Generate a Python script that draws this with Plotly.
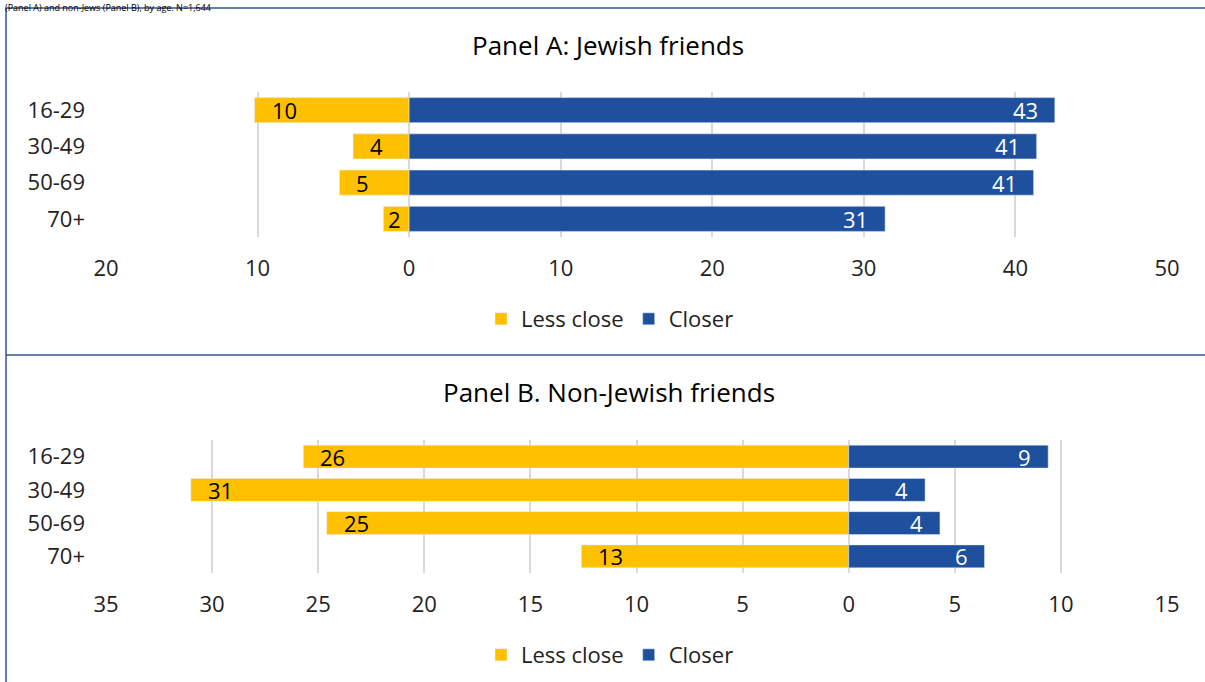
import plotly.graph_objects as go

W, H = 1205, 682

ages = ["16-29", "30-49", "50-69", "70+"]
a_less = [10.2, 3.7, 4.6, 1.7]
a_closer = [42.6, 41.4, 41.2, 31.4]
b_less = [25.7, 31.0, 24.6, 12.6]
b_closer = [9.4, 3.6, 4.3, 6.4]

a_ticks = [-20, -10, 0, 10, 20, 30, 40, 50]
b_ticks = [-35, -30, -25, -20, -15, -10, -5, 0, 5, 10, 15]

top_text = "(Panel A) and non-Jews (Panel B), by age. N=1,644"
title_a = "Panel A: Jewish friends"
title_b = "Panel B. Non-Jewish friends"

YELLOW = "#FFC000"
BLUE = "#1F509E"
FRAME = "#2F5597"
FONT = "Open Sans"
FS = 22

X0, X1 = 106, 1167  # plot-area pixel edges


def px_x(p):
    return p / W


def px_y(p):
    return 1 - p / H


fig = go.Figure()

panels = [
    ("x", "y", "legend", a_less, a_closer, a_ticks),
    ("x2", "y2", "legend2", b_less, b_closer, b_ticks),
]
for xa, ya, lg, less, closer, _ in panels:
    fig.add_trace(go.Bar(
        y=ages, x=[-v for v in less], orientation="h", name="Less close",
        marker=dict(color=YELLOW), xaxis=xa, yaxis=ya, legend=lg,
        hoverinfo="skip"))
    fig.add_trace(go.Bar(
        y=ages, x=closer, orientation="h", name="Closer",
        marker=dict(color=BLUE), xaxis=xa, yaxis=ya, legend=lg,
        hoverinfo="skip"))


def label_shift(v, ticks):
    # keep the label inside the bar: inset ~15px, less if the bar is short
    ppu = (X1 - X0) / (ticks[-1] - ticks[0])
    bar_px = abs(v) * ppu
    txt_w = 12.5 * len(str(round(abs(v))))
    return max(1.0, min(15.0, bar_px - txt_w - 11))


annotations = []
for xa, ya, _, less, closer, ticks in panels:
    for cat, v in zip(ages, less):
        annotations.append(dict(
            x=-v, y=cat, xref=xa, yref=ya, text=str(round(v)),
            xanchor="left", yanchor="middle", xshift=label_shift(v, ticks),
            showarrow=False,
            font=dict(family=FONT, size=FS, color="black")))
    for cat, v in zip(ages, closer):
        annotations.append(dict(
            x=v, y=cat, xref=xa, yref=ya, text=str(round(v)),
            xanchor="right", yanchor="middle", xshift=-label_shift(v, ticks),
            showarrow=False,
            font=dict(family=FONT, size=FS, color="white")))

annotations += [
    dict(x=px_x(4), y=1, xref="paper", yref="paper",
         text=top_text, showarrow=False, borderpad=0,
         xanchor="left", yanchor="top",
         font=dict(family=FONT, size=9, color="black")),
    dict(x=px_x(608), y=px_y(45), xref="paper", yref="paper",
         text=title_a, showarrow=False,
         xanchor="center", yanchor="middle",
         font=dict(family=FONT, size=26, color="black")),
    dict(x=px_x(609), y=px_y(392), xref="paper", yref="paper",
         text=title_b, showarrow=False,
         xanchor="center", yanchor="middle",
         font=dict(family=FONT, size=26, color="black")),
]

shapes = [
    dict(type="line", xref="paper", yref="paper",
         x0=px_x(6), x1=1.01, y0=px_y(8), y1=px_y(8),
         line=dict(color=FRAME, width=1.5)),
    dict(type="line", xref="paper", yref="paper",
         x0=px_x(6), x1=px_x(6), y0=px_y(8), y1=-0.01,
         line=dict(color=FRAME, width=1.5)),
    dict(type="line", xref="paper", yref="paper",
         x0=px_x(6), x1=1.01, y0=px_y(355), y1=px_y(355),
         line=dict(color=FRAME, width=1.5)),
]


def xaxis(ticks, anchor):
    return dict(
        domain=[px_x(X0), px_x(X1)],
        range=[ticks[0], ticks[-1]],
        tickvals=ticks,
        ticktext=[str(abs(t)) for t in ticks],
        showgrid=True, gridcolor="#D9D9D9", gridwidth=2,
        zeroline=False, showline=False, ticks="",
        tickfont=dict(family=FONT, size=FS, color="#222222"),
        ticklabelstandoff=16,
        automargin=False,
        anchor=anchor, fixedrange=True,
    )


def yaxis(top, bottom, anchor):
    return dict(
        domain=[px_y(bottom), px_y(top)],
        categoryorder="array", categoryarray=ages,
        range=[3.5, -0.5],
        showgrid=False, zeroline=False, showline=False, ticks="",
        tickfont=dict(family=FONT, size=FS, color="#222222"),
        ticklabelstandoff=20,
        automargin=False,
        anchor=anchor, fixedrange=True,
    )


legend_common = dict(
    orientation="h", xanchor="center", yanchor="middle",
    font=dict(family=FONT, size=FS, color="#222222"),
    itemwidth=30, bgcolor="rgba(0,0,0,0)", traceorder="normal",
)

fig.update_layout(
    width=W, height=H, autosize=False,
    margin=dict(l=0, r=0, t=0, b=0, pad=0, autoexpand=False),
    paper_bgcolor="white", plot_bgcolor="white",
    barmode="relative", bargap=0.31,
    xaxis=xaxis(a_ticks, "y"),
    yaxis=yaxis(92, 237, "x"),
    xaxis2=xaxis(b_ticks, "y2"),
    yaxis2=yaxis(440, 573, "x2"),
    legend=dict(x=px_x(610), y=px_y(319), **legend_common),
    legend2=dict(x=px_x(610), y=px_y(655), **legend_common),
    annotations=annotations,
    shapes=shapes,
    font=dict(family=FONT),
)

fig.write_html("out.html")
